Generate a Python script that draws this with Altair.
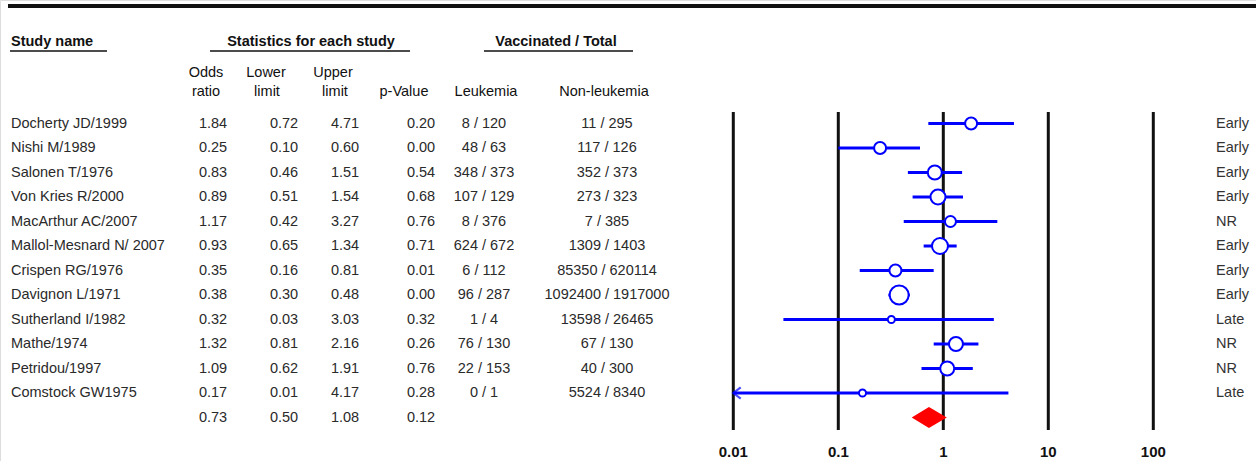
import altair as alt
import pandas as pd

# ---------------- data ----------------
studies = ["Docherty JD/1999", "Nishi M/1989", "Salonen T/1976", "Von Kries R/2000",
           "MacArthur AC/2007", "Mallol-Mesnard N/ 2007", "Crispen RG/1976",
           "Davignon L/1971", "Sutherland I/1982", "Mathe/1974", "Petridou/1997",
           "Comstock GW1975"]
odds_ratio = [1.84, 0.25, 0.83, 0.89, 1.17, 0.93, 0.35, 0.38, 0.32, 1.32, 1.09, 0.17]
lower_limit = [0.72, 0.10, 0.46, 0.51, 0.42, 0.65, 0.16, 0.30, 0.03, 0.81, 0.62, 0.01]
upper_limit = [4.71, 0.60, 1.51, 1.54, 3.27, 1.34, 0.81, 0.48, 3.03, 2.16, 1.91, 4.17]
p_value = [0.20, 0.00, 0.54, 0.68, 0.76, 0.71, 0.01, 0.00, 0.32, 0.26, 0.76, 0.28]
leukemia = ["8 / 120", "48 / 63", "348 / 373", "107 / 129", "8 / 376", "624 / 672",
            "6 / 112", "96 / 287", "1 / 4", "76 / 130", "22 / 153", "0 / 1"]
non_leukemia = ["11 / 295", "117 / 126", "352 / 373", "273 / 323", "7 / 385",
                "1309 / 1403", "85350 / 620114", "1092400 / 1917000", "13598 / 26465",
                "67 / 130", "40 / 300", "5524 / 8340"]
timing = ["Early", "Early", "Early", "Early", "NR", "Early", "Early", "Early",
          "Late", "NR", "NR", "Late"]
# relative study weights (%)
weight_pct = [6.9, 6.9, 9.4, 10.8, 5.8, 12.3, 6.9, 17.3, 2.4, 9.4, 9.4, 2.4]

summary_or = 0.73
summary_lower = 0.50
summary_upper = 1.08
summary_p = 0.12

tick_values = [0.01, 0.1, 1, 10, 100]
tick_labels = ["0.01", "0.1", "1", "10", "100"]

# ---------------- tables ----------------
n = len(studies)
df = pd.DataFrame({
    "row": list(range(n)),
    "study": studies,
    "or": odds_ratio,
    "lo": lower_limit,
    "hi": upper_limit,
    "p": p_value,
    "leuk": leukemia,
    "nonleuk": non_leukemia,
    "timing": timing,
    "weight": weight_pct,
})
sum_df = pd.DataFrame({"row": [n], "or": [summary_or], "lo": [summary_lower],
                       "hi": [summary_upper], "p": [summary_p]})
half = 0.43
diamond_df = pd.DataFrame({
    "x": [summary_lower, summary_or, summary_upper],
    "y": [n, n - half, n],
    "y2": [n, n + half, n],
})
ticks_df = pd.DataFrame({"t": tick_values, "lab": tick_labels})
arrow_df = df[df["lo"] <= 0.01]

FONT = "Liberation Sans"
TXT = "#2a2a2a"
HDR = "#111111"
FS = 14.5
BLUE = "#0000ff"

xs = alt.Scale(type="log", domain=[0.01, 100], range=[733.3, 1153.3], nice=False)
ys = alt.Scale(domain=[0, n], range=[123.5, 417.5], nice=False, zero=False)
X = lambda f: alt.X(f, type="quantitative", scale=xs, axis=None)
Y = lambda f: alt.Y(f, type="quantitative", scale=ys, axis=None)

layers = []

# top thick rule
layers.append(alt.Chart(pd.DataFrame({"a": [0]})).mark_rule(color="#111111", strokeWidth=4).encode(
    x=alt.value(8), x2=alt.value(1256), y=alt.value(6)))


def header(text, x, y, align="center", bold=False):
    return alt.Chart(pd.DataFrame({"t": [text]})).mark_text(
        font=FONT, fontSize=FS, color=HDR, align=align, baseline="middle",
        fontWeight="bold" if bold else "normal").encode(
        x=alt.value(x), y=alt.value(y), text="t:N")


def underline(x1, x2, y):
    return alt.Chart(pd.DataFrame({"a": [0]})).mark_rule(color=HDR, strokeWidth=1.4).encode(
        x=alt.value(x1), x2=alt.value(x2), y=alt.value(y))


layers += [
    header("Study name", 11, 42, align="left", bold=True),
    header("Statistics for each study", 311, 42, bold=True),
    header("Vaccinated / Total", 556, 42, bold=True),
    underline(10, 107, 51), underline(210, 410, 51), underline(484, 633, 51),
    header("Odds", 206, 73), header("ratio", 206, 92),
    header("Lower", 266, 73), header("limit", 267, 92),
    header("Upper", 333, 73), header("limit", 335, 92),
    header("p-Value", 404, 92),
    header("Leukemia", 486, 92),
    header("Non-leukemia", 604, 92),
]


def col(data, field, x, align="center", fmt=None, color=TXT):
    kw = {"format": fmt} if fmt else {}
    return alt.Chart(data).mark_text(font=FONT, fontSize=FS, color=color, align=align,
                                     baseline="middle").encode(
        x=alt.value(x), y=Y("row"), text=alt.Text(field, **kw))


layers += [
    col(df, "study:N", 11, align="left"),
    col(df, "or:Q", 213, fmt=".2f"),
    col(df, "lo:Q", 284, fmt=".2f"),
    col(df, "hi:Q", 345, fmt=".2f"),
    col(df, "p:Q", 421, fmt=".2f"),
    col(df, "leuk:N", 484),
    col(df, "nonleuk:N", 607),
    col(sum_df, "or:Q", 213, fmt=".2f"),
    col(sum_df, "lo:Q", 284, fmt=".2f"),
    col(sum_df, "hi:Q", 345, fmt=".2f"),
    col(sum_df, "p:Q", 421, fmt=".2f"),
    col(df, "timing:N", 1216, align="left", color="#333333"),
]

# forest plot
layers.append(alt.Chart(ticks_df).mark_rule(color="#111111", strokeWidth=3).encode(
    x=X("t"), y=alt.value(112), y2=alt.value(430)))
layers.append(alt.Chart(ticks_df).mark_text(font=FONT, fontSize=15, fontWeight="bold",
                                            color="#111111", baseline="middle").encode(
    x=X("t"), y=alt.value(452), text="lab:N"))
layers.append(alt.Chart(df).mark_rule(color=BLUE, strokeWidth=3).encode(
    x=X("lo"), x2="hi:Q", y=Y("row")))
layers.append(alt.Chart(arrow_df).mark_point(
    shape="M1.3,-1L0,0L1.3,1", filled=False, color=BLUE, strokeWidth=2.2, size=130).encode(
    x=X("lo"), y=Y("row")))
layers.append(alt.Chart(df).mark_point(
    shape="circle", filled=True, fill="white", stroke=BLUE, strokeWidth=2, opacity=1).encode(
    x=X("or"), y=Y("row"),
    size=alt.Size("weight:Q", scale=alt.Scale(domain=[0, 17.3], range=[0, 361]), legend=None)))
layers.append(alt.Chart(diamond_df).mark_area(color="#ff0000", opacity=1).encode(
    x=X("x"), y=Y("y"), y2="y2:Q"))

chart = alt.layer(*layers).properties(
    width=1256, height=461, autosize=alt.AutoSizeParams(type="none"), padding=0
).configure_view(stroke=None).configure(background="white")

chart.save("out.html", embed_options={"renderer": "svg", "actions": False})
